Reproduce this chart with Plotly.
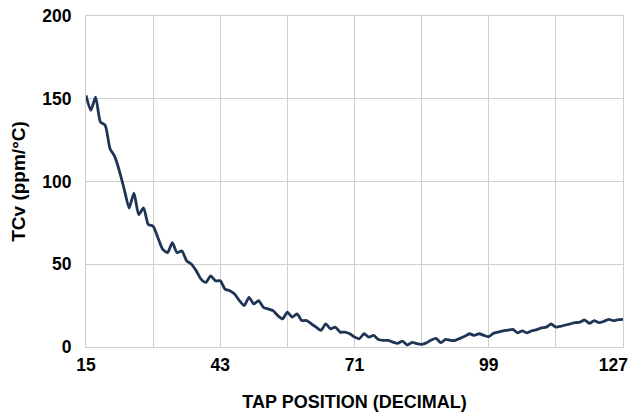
import plotly.graph_objects as go

tap = list(range(15, 128))
tcv = [
    152, 143, 151, 136, 134, 120, 115, 106, 95, 84,
    93, 80, 84, 74, 73, 66, 59, 57, 63, 57,
    58, 52, 50, 46, 41, 39, 43, 40, 40, 35,
    34, 32, 28, 25, 30, 26, 28, 24, 23, 22,
    19, 17, 21, 18, 20, 16, 16, 14, 12, 10,
    14, 11, 12, 9, 9, 8, 6, 5, 8, 6,
    7, 4.5, 4, 4, 3, 2.2, 3.6, 1.2, 2.8, 2,
    1.6, 2.5, 4.2, 5.2, 2.6, 4.6, 4, 4, 5.2, 6.5,
    8, 7, 8, 7, 6.2, 8.3, 9, 9.8, 10.2, 10.7,
    8.6, 9.8, 8.5, 9.8, 10.5, 11.5, 12, 13.9, 12, 12.5,
    13.3, 14, 14.7, 15, 16.3, 14.3, 15.9, 14.7, 15.5, 16.7,
    15.9, 16.5, 16.7,
]
x_grid = [15, 29, 43, 57, 71, 85, 99, 113, 127]
# last label nudged inward (as in the reference) so it stays inside the page
x_label_pos = [15, 43, 71, 99, 125]
x_labels = ["15", "43", "71", "99", "127"]
y_ticks = [0, 50, 100, 150, 200]

font = "Liberation Sans, Arial, sans-serif"
grid = "#cfcfcf"

fig = go.Figure(go.Scatter(
    x=tap, y=tcv, mode="lines",
    line=dict(color="#1e3556", width=2.8, shape="spline", smoothing=0.6),
    hoverinfo="skip",
))

fig.update_layout(
    width=635, height=412,
    margin=dict(l=86, r=12, t=16, b=65),
    paper_bgcolor="white", plot_bgcolor="white",
    showlegend=False,
    font=dict(family=font, color="black"),
)
fig.update_xaxes(
    range=[15, 127], tickvals=x_label_pos, ticktext=x_labels,
    showgrid=False,
    minor=dict(tickvals=x_grid, showgrid=True, gridcolor=grid, gridwidth=1, ticks=""),
    showline=True, linecolor=grid, mirror=True, zeroline=False,
    ticks="", ticklabelstandoff=2, automargin=False, ticklabeloverflow="allow",
    tickfont=dict(size=17.5, family=font, color="black", weight="bold"),
    title=dict(text="<b>TAP POSITION (DECIMAL)</b>", font=dict(size=18, family=font), standoff=27),
)
fig.update_yaxes(
    range=[0, 200], tickvals=y_ticks,
    showgrid=True, gridcolor=grid, gridwidth=1,
    showline=True, linecolor=grid, mirror=True, zeroline=False,
    ticks="", ticklabelstandoff=10, automargin=False, ticklabeloverflow="allow",
    tickfont=dict(size=17.5, family=font, color="black", weight="bold"),
    title=dict(text="<b>TCv (ppm/°C)</b>", font=dict(size=19, family=font), standoff=11),
)

fig.write_html(
    "out.html",
    config={"displayModeBar": False},
    post_script="document.body.style.margin='0';document.body.style.overflow='hidden';",
)
